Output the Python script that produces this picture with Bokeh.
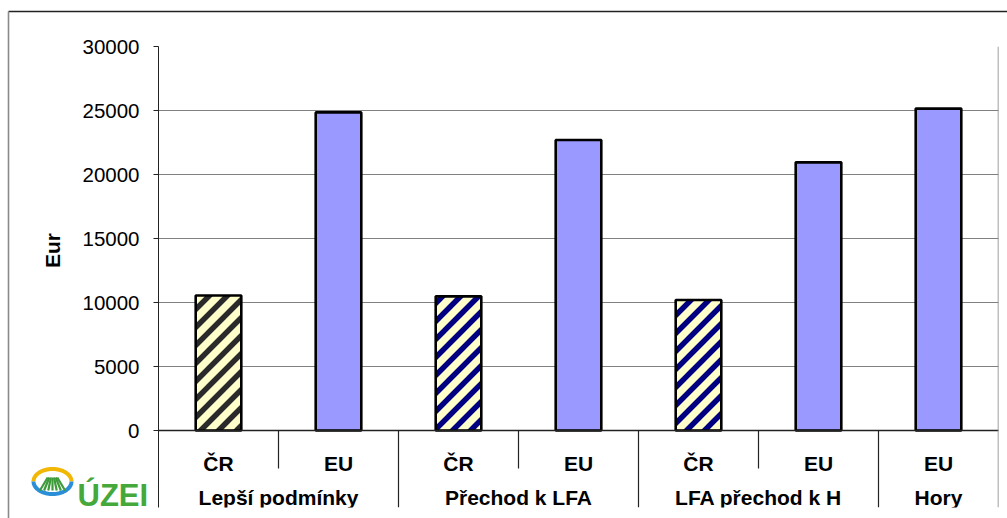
import numpy as np
from bokeh.plotting import figure
from bokeh.models import Range1d, FixedTicker, Span, ColumnDataSource
from bokeh.core.properties import value
from bokeh.embed import file_html
from bokeh.resources import INLINE

# ---- data -------------------------------------------------------------
groups = ["Lepší podmínky", "Přechod k LFA", "LFA přechod k H", "Hory"]
group_sizes = [2, 2, 2, 1]
series = ["ČR", "EU", "ČR", "EU", "ČR", "EU", "EU"]
values = [10550, 24850, 10480, 22700, 10200, 20950, 25150]
y_ticks = [0, 5000, 10000, 15000, 20000, 25000, 30000]
y_max = 30000
axis_title = "Eur"
logo_text = "ÚZEI"

# ---- layout (pixels) --------------------------------------------------
W, H = 1007, 518
FL, FR, FT, FB = 158, 998, 46, 507   # frame edges
ZERO_PX = 430                        # pixel row of the value 0
n = len(series)
px_per_unit = (ZERO_PX - FT) / y_max
slot_px = (FR - FL) / n
y_lo = -(FB - ZERO_PX) / px_per_unit
BAR_W = 0.38


def dx(px):
    return (px - FL) / slot_px


def dy(py):
    return (ZERO_PX - py) / px_per_unit


def to_px_x(x):
    return FL + x * slot_px


def to_px_y(v):
    return ZERO_PX - v * px_per_unit


def clip_halfplane(poly, a, b, c):
    """Keep the part of a convex polygon where a*x + b*y <= c."""
    out = []
    m = len(poly)
    for i in range(m):
        p0, p1 = poly[i], poly[(i + 1) % m]
        f0 = a * p0[0] + b * p0[1] - c
        f1 = a * p1[0] + b * p1[1] - c
        if f0 <= 0:
            out.append(p0)
        if f0 * f1 < 0:
            t = f0 / (f0 - f1)
            out.append((p0[0] + t * (p1[0] - p0[0]), p0[1] + t * (p1[1] - p0[1])))
    return out


def stripes(x_center, top, period=18.0, thick=5.5):
    """45-degree '/' stripes inside one bar, returned in data coordinates."""
    x0 = to_px_x(x_center - BAR_W / 2)
    x1 = to_px_x(x_center + BAR_W / 2)
    y0, y1 = to_px_y(top), to_px_y(0)
    rect = [(x0, y0), (x1, y0), (x1, y1), (x0, y1)]
    h = thick * np.sqrt(2) / 2
    xs, ys = [], []
    c = (x0 + y0) - (x0 + y0) % period - period
    while c - h < x1 + y1:
        poly = clip_halfplane(rect, 1, 1, c + h)
        poly = clip_halfplane(poly, -1, -1, -(c - h)) if poly else []
        if len(poly) >= 3:
            xs.append([dx(q[0]) for q in poly])
            ys.append([dy(q[1]) for q in poly])
        c += period
    return xs, ys


FONT = value("Liberation Sans")

p = figure(width=W, height=H, output_backend="svg", toolbar_location=None,
           x_range=Range1d(0, n), y_range=Range1d(y_lo, y_max),
           min_border_left=FL, min_border_right=W - FR,
           min_border_top=FT, min_border_bottom=H - FB,
           x_axis_location=None)
p.outline_line_color = None
p.background_fill_color = "white"
p.border_fill_color = "white"

# y axis
ax = p.yaxis[0]
ax.ticker = FixedTicker(ticks=y_ticks)
ax.major_tick_out = 5
ax.major_tick_in = 0
ax.minor_tick_line_color = None
ax.axis_line_color = "#222222"
ax.major_tick_line_color = "#222222"
ax.major_label_text_font = "Liberation Sans"
ax.major_label_text_font_size = "20.5px"
ax.major_label_text_color = "black"
ax.major_label_standoff = 14

p.xgrid.visible = False
p.ygrid.ticker = FixedTicker(ticks=y_ticks)
p.ygrid.grid_line_color = "#808080"
p.ygrid.grid_line_width = 1.2

# bars
xc = np.arange(n) + 0.5
group_of = np.repeat(np.arange(len(groups)), group_sizes)
cr = [i for i, s in enumerate(series) if s == "ČR"]
eu = [i for i, s in enumerate(series) if s == "EU"]
hatch_by_group = ["#2a2a2a", "#000080", "#000080", "#000080"]

src_eu = ColumnDataSource(dict(x=xc[eu], top=[values[i] for i in eu]))
src_cr = ColumnDataSource(dict(x=xc[cr], top=[values[i] for i in cr]))

p.vbar(x="x", top="top", width=BAR_W, source=src_eu,
       fill_color="#9999FF", line_color="black", line_width=2.6)

p.vbar(x="x", top="top", width=BAR_W, source=src_cr,
       fill_color="#FFFFCC", line_color=None)
sx, sy, sc = [], [], []
for i in cr:
    a, b = stripes(xc[i], values[i])
    sx += a
    sy += b
    sc += [hatch_by_group[group_of[i]]] * len(a)
p.patches(xs=sx, ys=sy, fill_color=sc, line_color=None)
p.vbar(x="x", top="top", width=BAR_W, source=src_cr,
       fill_color=None, line_color="black", line_width=2.6)

# category axis drawn inside the lower strip of the frame
p.add_layout(Span(location=0, dimension="width", line_color="#222222", line_width=1.3))
p.add_layout(Span(location=n, dimension="height", line_color="#808080", line_width=1.5))

bounds = np.cumsum([0] + group_sizes)
inner = [b for g in range(len(groups)) for b in range(bounds[g] + 1, bounds[g + 1])]
outer = list(bounds[1:-1])
p.segment(x0=inner, y0=0, x1=inner, y1=dy(468), line_color="#222222", line_width=1.2)
p.segment(x0=outer, y0=0, x1=outer, y1=y_lo, line_color="#222222", line_width=1.2)

p.text(x=xc, y=dy(463), text=series, text_align="center", text_baseline="alphabetic",
       text_font=FONT, text_font_style="bold", text_font_size="21px", text_color="black")
gc = (bounds[:-1] + bounds[1:]) / 2
p.text(x=gc, y=dy(497), text=groups, text_align="center", text_baseline="alphabetic",
       text_font=FONT, text_font_style="bold", text_font_size="21px", text_color="black")

# axis title (left of the frame, so drawn on the overlay level)
p.text(x=[dx(52)], y=[dy(250)], text=[axis_title], angle=np.pi / 2,
       text_align="center", text_baseline="middle",
       text_font=FONT, text_font_style="bold", text_font_size="21px",
       text_color="black", level="overlay")

# outer frame of the chart area
p.segment(x0=[dx(8), dx(8)], y0=[dy(11), dy(11)], x1=[dx(W), dx(8)], y1=[dy(11), dy(H)],
          line_color=["#222222", "#8a8a8a"], line_width=[1.6, 1.6], level="overlay")

# logo: ring (yellow upper, blue lower) with green field rows, then the name
cx, cy, rx, ry = 52, 481, 19, 12.5
t = np.linspace(0, np.pi, 40)
p.line(x=dx(cx + rx * np.cos(t)), y=dy(cy - ry * np.sin(t)),
       line_color="#F2B705", line_width=4, level="overlay")
p.line(x=dx(cx + rx * np.cos(t)), y=dy(cy + ry * np.sin(t)),
       line_color="#2B8FD8", line_width=4, level="overlay")
k = np.arange(-3, 4)
p.segment(x0=dx(cx + k * 1.6), y0=dy(cy - 4), x1=dx(cx + k * 4.2), y1=dy(cy + 9),
          line_color="#3E9B3A", line_width=2.2, level="overlay")
p.text(x=[dx(77)], y=[dy(495)], text=[logo_text],
       text_align="left", text_baseline="alphabetic",
       text_font=FONT, text_font_style="bold", text_font_size="31px",
       text_color="#44A83A", level="overlay")

open("out.html", "w").write(file_html(p, INLINE))
